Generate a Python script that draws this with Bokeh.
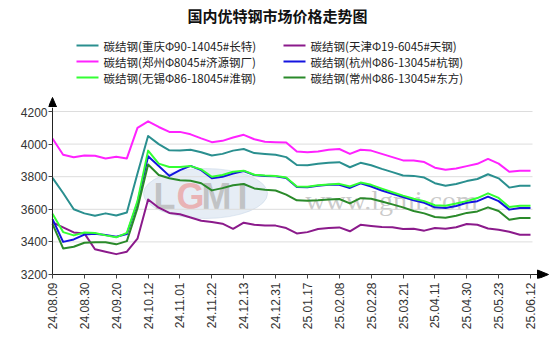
import numpy as np
from bokeh.plotting import figure
from bokeh.layouts import column
from bokeh.models import Range1d, FixedTicker
from bokeh.embed import file_html
from bokeh.resources import INLINE
from bokeh.core.properties import value

title = "国内优特钢市场价格走势图"
tick_labels = ["24.08.09", "24.08.30", "24.09.20", "24.10.12", "24.11.01", "24.11.22",
               "24.12.13", "24.12.31", "25.01.17", "25.02.08", "25.02.28", "25.03.21",
               "25.04.11", "25.04.30", "25.05.23", "25.06.12"]
names = ["碳结钢(重庆Φ90-14045#长特)", "碳结钢(天津Φ19-6045#天钢)",
         "碳结钢(郑州Φ8045#济源钢厂)", "碳结钢(杭州Φ86-13045#杭钢)",
         "碳结钢(无锡Φ86-18045#淮钢)", "碳结钢(常州Φ86-13045#东方)"]
colors = ["#2a8f8f", "#8b1a8b", "#ff22ff", "#1414e0", "#33ff33", "#2a8a2a"]

chongqing = [3793, 3700, 3600, 3575, 3560, 3575, 3562, 3580, 3820, 4050,
             4000, 3962, 3960, 3965, 3950, 3930, 3940, 3960, 3970, 3945,
             3940, 3935, 3920, 3872, 3870, 3879, 3885, 3889, 3858, 3885,
             3870, 3848, 3828, 3807, 3805, 3795, 3760, 3745, 3755, 3773,
             3786, 3815, 3790, 3733, 3745, 3745]
tianjin = [3520, 3489, 3458, 3452, 3355, 3340, 3325, 3340, 3420, 3660,
           3610, 3578, 3570, 3550, 3530, 3522, 3512, 3480, 3518, 3505,
           3500, 3500, 3485, 3452, 3460, 3479, 3485, 3489, 3465, 3505,
           3498, 3492, 3490, 3479, 3480, 3469, 3485, 3480, 3490, 3510,
           3505, 3482, 3475, 3462, 3444, 3444]
zhengzhou = [4034, 3935, 3919, 3930, 3928, 3912, 3922, 3912, 4100, 4140,
             4105, 4075, 4075, 4060, 4035, 4012, 4020, 4040, 4057, 4030,
             4015, 4012, 4010, 3955, 3950, 3955, 3965, 3970, 3940, 3965,
             3960, 3940, 3920, 3900, 3900, 3890, 3855, 3842, 3850, 3865,
             3879, 3909, 3880, 3830, 3837, 3837]
hangzhou = [3540, 3400, 3415, 3445, 3450, 3442, 3432, 3448, 3640, 3925,
            3865, 3805, 3840, 3866, 3840, 3790, 3800, 3820, 3835, 3810,
            3804, 3802, 3792, 3737, 3735, 3745, 3750, 3750, 3731, 3760,
            3740, 3715, 3695, 3675, 3655, 3640, 3612, 3608, 3620, 3640,
            3650, 3678, 3650, 3598, 3608, 3608]
wuxi = [3573, 3460, 3440, 3458, 3455, 3440, 3428, 3455, 3650, 3960,
        3880, 3860, 3860, 3865, 3845, 3800, 3810, 3830, 3837, 3812,
        3807, 3805, 3795, 3740, 3738, 3748, 3752, 3756, 3740, 3764,
        3750, 3727, 3705, 3684, 3665, 3650, 3625, 3622, 3635, 3650,
        3669, 3698, 3670, 3614, 3622, 3622]
changzhou = [3510, 3360, 3370, 3395, 3398, 3398, 3385, 3405, 3607, 3875,
             3810, 3790, 3778, 3775, 3760, 3716, 3730, 3748, 3755, 3728,
             3720, 3715, 3690, 3655, 3652, 3655, 3660, 3663, 3636, 3668,
             3665, 3648, 3630, 3612, 3590, 3575, 3553, 3548, 3560, 3578,
             3587, 3612, 3590, 3536, 3547, 3547]
series = [chongqing, tianjin, zhengzhou, hangzhou, wuxi, changzhou]
y_ticks = [3200, 3400, 3600, 3800, 4000, 4200]
points_per_label = 3

# ---- page layout (pixels) ----
W, H = 554, 352
HEAD = 107                 # header strip: title, legend, y-axis arrow head
AX_X, AX_Y = 52, 274       # pixel position of the axis lines
FL, FB = 48, 278           # frame left / bottom (a little outside the axis lines)
n = len(chongqing)
PX_PER_IDX = (530 - AX_X) / (n - 1)
PX_PER_VAL = (AX_Y - 111) / 1000.0
x_start = -(AX_X - FL) / PX_PER_IDX
x_end = (W - AX_X) / PX_PER_IDX
y_start = 3200 - (FB - AX_Y) / PX_PER_VAL
y_end = 3200 + (AX_Y - HEAD) / PX_PER_VAL


def px2x(px):
    return (px - AX_X) / PX_PER_IDX


def px2y(py):
    return 3200 + (AX_Y - py) / PX_PER_VAL


# ---- header: title + legend + y arrow head (frame spans same x as main frame) ----
head = figure(width=W, height=HEAD, x_range=Range1d(FL, W), y_range=Range1d(HEAD, 0),
              output_backend="svg", toolbar_location=None, x_axis_type=None, y_axis_type=None,
              min_border_left=FL, min_border_right=0, min_border_top=0, min_border_bottom=0)
head.outline_line_color = None
head.background_fill_color = "white"
head.border_fill_color = "white"
head.text(x=[277], y=[15], text=[title], text_align="center", text_baseline="middle",
          text_font=value("Noto Sans CJK SC"), text_font_style="bold", text_font_size="15px",
          text_color="#111111")
leg_rows = [45, 61, 77]
leg_cols = [(76, 98, 103), (283, 305, 310)]
order = [[0, 2, 4], [1, 3, 5]]
for (x0, x1, xt), idxs in zip(leg_cols, order):
    for yy, i in zip(leg_rows, idxs):
        head.segment(x0=[x0], y0=[yy], x1=[x1], y1=[yy], line_color=colors[i], line_width=2)
        head.text(x=[xt], y=[yy], text=[names[i]], text_align="left", text_baseline="middle",
                  text_font=value("Noto Sans CJK SC"), text_font_size="11.5px", text_color="#222222")
head.patch(x=[AX_X, AX_X - 4.5, AX_X + 4.5], y=[97, HEAD + 0.5, HEAD + 0.5],
           fill_color="black", line_color="black")

# ---- main chart ----
MH = H - HEAD
p = figure(width=W, height=MH, x_range=Range1d(x_start, x_end), y_range=Range1d(y_start, y_end),
           output_backend="svg", toolbar_location=None,
           min_border_left=FL, min_border_right=0, min_border_top=0, min_border_bottom=H - FB)
p.outline_line_color = None
p.xgrid.visible = False
p.ygrid.visible = False
p.background_fill_color = "white"
p.border_fill_color = "white"

# watermark
p.ellipse(x=px2x(205), y=px2y(193), width=124 / PX_PER_IDX, height=50 / PX_PER_VAL,
          fill_color="#d5e1ee", fill_alpha=0.6, line_color="#c6d6e8", line_alpha=0.5)
for ch, cx, col in [("L", 164, "#b5b5b5"), ("G", 190, "#eaa0a0"), ("M", 216, "#b5b5b5"), ("I", 242, "#b5b5b5")]:
    p.text(x=[px2x(cx)], y=[px2y(196)], text=[ch], text_align="center", text_baseline="middle",
           text_font=value("Liberation Sans"), text_font_style="bold", text_font_size="36px",
           text_color=col, text_alpha=0.75)
p.text(x=[px2x(391)], y=[px2y(200)], text=["www.lgmi.com"], text_align="center", text_baseline="middle",
       text_font=value("Liberation Serif"), text_font_size="28px", text_color="#bdbdbd", text_alpha=0.8)

# grid
for g in y_ticks[1:]:
    p.segment(x0=[0], y0=[g], x1=[px2x(532)], y1=[g], line_color="#dddddd", line_width=1)

x = list(range(n))
for s, c in zip(series, colors):
    p.line(x, s, line_color=c, line_width=2, line_join="round")

# axis lines with arrow head on x
p.segment(x0=[0], y0=[3200], x1=[0], y1=[y_end], line_color="#222222", line_width=1)
p.segment(x0=[0], y0=[3200], x1=[px2x(540)], y1=[3200], line_color="#222222", line_width=1)
p.patch(x=[px2x(537), px2x(548), px2x(537)], y=[px2y(269.5), 3200, px2y(278.5)],
        fill_color="black", line_color="black")

for ax in (p.xaxis[0], p.yaxis[0]):
    ax.axis_line_color = None
    ax.major_tick_line_color = "#444444"
    ax.major_tick_out = 0
    ax.major_tick_in = 4
    ax.minor_tick_line_color = None
    ax.major_label_text_font = "Liberation Sans"
    ax.major_label_text_font_size = "12px"
    ax.major_label_text_color = "#333333"

p.yaxis.ticker = FixedTicker(ticks=y_ticks)
p.yaxis.major_label_standoff = 1
xt = [i * points_per_label for i in range(len(tick_labels))]
p.xaxis.ticker = FixedTicker(ticks=xt)
p.xaxis.major_label_overrides = {t: lab for t, lab in zip(xt, tick_labels)}
p.xaxis.major_label_orientation = np.pi / 2
p.xaxis.major_label_standoff = 4

layout = column(head, p, spacing=0)
open("out.html", "w").write(file_html(layout, INLINE))
